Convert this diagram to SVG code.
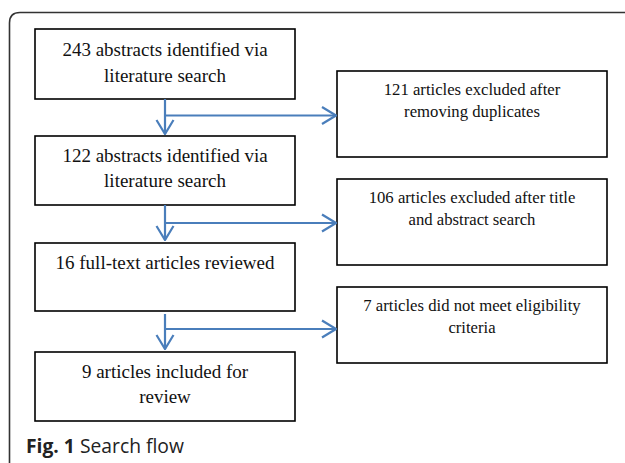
<svg xmlns="http://www.w3.org/2000/svg" width="625" height="463" viewBox="0 0 625 463">
<style>
.box{fill:#fff;stroke:#000;stroke-width:1.6}
.lt{font-family:"Liberation Serif","Times New Roman",serif;font-size:19px;fill:#111;text-anchor:middle}
.rt{font-family:"Liberation Serif","Times New Roman",serif;font-size:16.7px;fill:#111;text-anchor:middle}
.con{stroke:#4a7ebb;stroke-width:2.2;fill:none}
.cap{font-family:"Open Sans","Noto Sans",sans-serif;font-size:19.3px;fill:#222}
</style>
<defs>
<marker id="arr" viewBox="0 0 16 20" refX="15" refY="10" markerWidth="16" markerHeight="20" markerUnits="userSpaceOnUse" orient="auto">
<path d="M1,1.5 L15,10 L1,18.5" fill="none" stroke="#4a7ebb" stroke-width="2.2"/>
</marker>
</defs>
<rect width="625" height="463" fill="#fff"/>
<path d="M9.5,463 V23 Q9.5,12.5 20,12.5 H625" fill="none" stroke="#333" stroke-width="1.6"/>
<g id="n1"><rect class="box" x="35" y="29" width="260" height="70"/><text class="lt" x="165" y="56">243 abstracts identified via</text><text class="lt" x="165" y="82">literature search</text></g>
<g id="n2"><rect class="box" x="35" y="136" width="260" height="69"/><text class="lt" x="165" y="162">122 abstracts identified via</text><text class="lt" x="165" y="187">literature search</text></g>
<g id="n3"><rect class="box" x="35" y="243" width="260" height="68"/><text class="lt" x="165" y="269">16 full-text articles reviewed</text></g>
<g id="n4"><rect class="box" x="35" y="352" width="260" height="69"/><text class="lt" x="165" y="378">9 articles included for</text><text class="lt" x="165" y="403">review</text></g>
<g id="e1"><rect class="box" x="337" y="71" width="270" height="86"/><text class="rt" x="472" y="95">121 articles excluded after</text><text class="rt" x="472" y="117">removing duplicates</text></g>
<g id="e2"><rect class="box" x="337" y="179" width="270" height="86"/><text class="rt" x="472" y="203">106 articles excluded after title</text><text class="rt" x="472" y="225">and abstract search</text></g>
<g id="e3"><rect class="box" x="337" y="287" width="270" height="76"/><text class="rt" x="472" y="311">7 articles did not meet eligibility</text><text class="rt" x="472" y="333">criteria</text></g>
<g id="connectors" class="con">
<line x1="165" y1="99" x2="165" y2="134" marker-end="url(#arr)"/>
<line x1="165" y1="115.5" x2="336" y2="115.5" marker-end="url(#arr)"/>
<line x1="165" y1="205" x2="165" y2="240" marker-end="url(#arr)"/>
<line x1="165" y1="223" x2="336" y2="223" marker-end="url(#arr)"/>
<line x1="165" y1="314" x2="165" y2="349" marker-end="url(#arr)"/>
<line x1="165" y1="329" x2="336" y2="329" marker-end="url(#arr)"/>
</g>
<text class="cap" x="26" y="453"><tspan font-weight="bold">Fig. 1</tspan> Search flow</text>
</svg>
